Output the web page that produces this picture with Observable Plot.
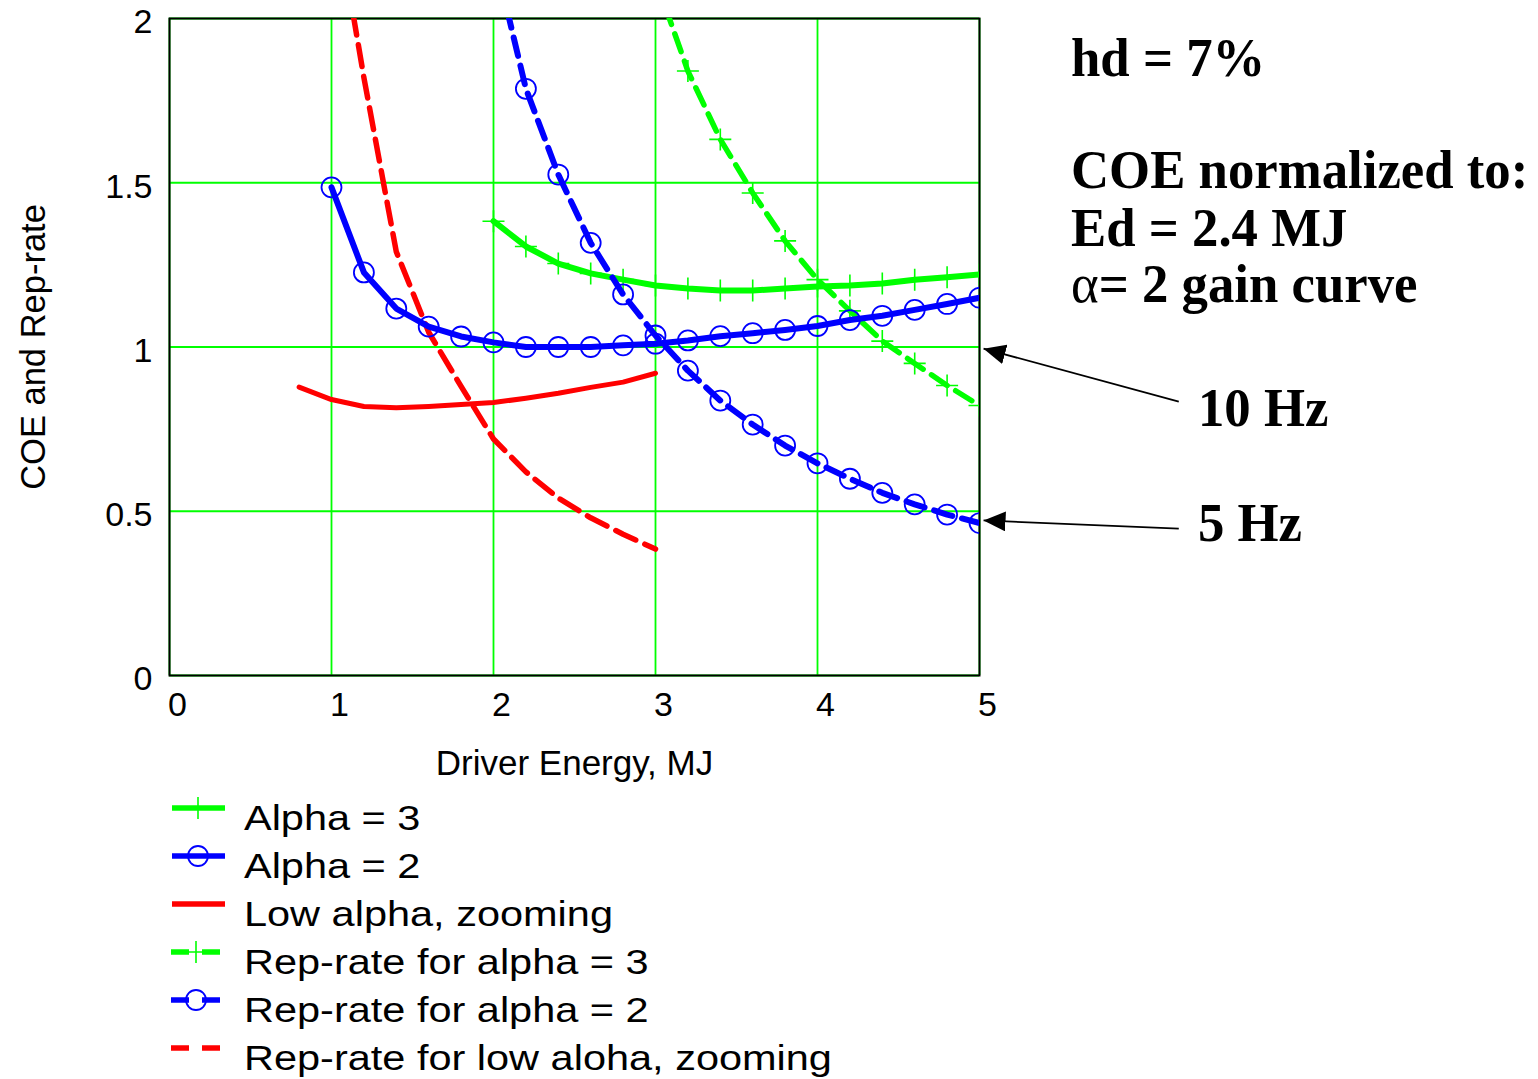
<!DOCTYPE html>
<html><head><meta charset="utf-8">
<script src="https://cdn.jsdelivr.net/npm/d3@7"></script>
<script src="https://cdn.jsdelivr.net/npm/@observablehq/plot@0.6"></script>
<style>
html,body{margin:0;padding:0;background:#fff;}
#wrap{position:relative;width:1538px;height:1079px;overflow:hidden;background:#fff;}
#wrap > svg{position:absolute;left:0;top:0;}
</style></head><body><div id="wrap"></div>
<script>
// ---------- data ----------
const xTicks = [0, 1, 2, 3, 4, 5];
const yTicks = [0, 0.5, 1, 1.5, 2];

const energyA3 = [2.0, 2.2, 2.4, 2.6, 2.8, 3.0, 3.2, 3.4, 3.6, 3.8, 4.0, 4.2, 4.4, 4.6, 4.8, 5.0];
const coeAlpha3 = [1.383, 1.306, 1.254, 1.224, 1.205, 1.187, 1.178, 1.172, 1.172, 1.178, 1.184, 1.187, 1.193, 1.205, 1.212, 1.221];

const energyA2 = [1.0, 1.2, 1.4, 1.6, 1.8, 2.0, 2.2, 2.4, 2.6, 2.8, 3.0, 3.2, 3.4, 3.6, 3.8, 4.0, 4.2, 4.4, 4.6, 4.8, 5.0];
const coeAlpha2 = [1.486, 1.227, 1.117, 1.062, 1.032, 1.014, 1.0, 1.0, 1.0, 1.005, 1.01, 1.02, 1.033, 1.042, 1.052, 1.064, 1.082, 1.095, 1.113, 1.131, 1.15];

const energyLow = [0.8, 1.0, 1.2, 1.4, 1.6, 1.8, 2.0, 2.2, 2.4, 2.6, 2.8, 3.0];
const coeLowAlpha = [0.878, 0.84, 0.819, 0.815, 0.819, 0.825, 0.831, 0.844, 0.859, 0.877, 0.893, 0.92];

const energyRep3 = [3.0, 3.2, 3.4, 3.6, 3.8, 4.0, 4.2, 4.4, 4.6, 4.8, 5.0];
const repAlpha3 = [2.12, 1.84, 1.632, 1.469, 1.323, 1.205, 1.11, 1.018, 0.95, 0.883, 0.822];

const energyRep2 = [2.0, 2.2, 2.4, 2.6, 2.8, 3.0, 3.2, 3.4, 3.6, 3.8, 4.0, 4.2, 4.4, 4.6, 4.8, 5.0];
const repAlpha2 = [2.2, 1.786, 1.525, 1.317, 1.16, 1.035, 0.928, 0.837, 0.764, 0.70, 0.646, 0.599, 0.556, 0.521, 0.49, 0.464];

const energyRepLow = [1.0, 1.2, 1.4, 1.6, 1.8, 2.0, 2.2, 2.4, 2.6, 2.8, 3.0];
const repLowAlpha = [2.4, 1.82, 1.29, 1.045, 0.88, 0.72, 0.62, 0.54, 0.48, 0.43, 0.385];

const legendLabels = ["Alpha = 3", "Alpha = 2", "Low alpha, zooming", "Rep-rate for alpha = 3", "Rep-rate for alpha = 2", "Rep-rate for low aloha, zooming"];
const xLabel = "Driver Energy, MJ";
const yLabel = "COE and Rep-rate";
const noteLines = ["hd = 7%", "COE normalized to:", "Ed = 2.4 MJ", "= 2 gain curve"];
const arrowLabels = ["10 Hz", "5 Hz"];
// arrows (data coords): from label to curve end
const arrowFromX = [6.23, 6.23];
const arrowFromY = [0.834, 0.447];
const arrowToX = [5.025, 5.025];
const arrowToY = [0.995, 0.472];

// ---------- build ----------
const rows = (xs, ys) => xs.map((x, i) => ({x, y: ys[i]}));
const dA3 = rows(energyA3, coeAlpha3);
const dA2 = rows(energyA2, coeAlpha2);
const dLow = rows(energyLow, coeLowAlpha);
const dR3 = rows(energyRep3, repAlpha3);
const dR2 = rows(energyRep2, repAlpha2);
const dRL = rows(energyRepLow, repLowAlpha);
const arrows = arrowFromX.map((x, i) => ({x1: x, y1: arrowFromY[i], x2: arrowToX[i], y2: arrowToY[i]}));

const GREEN = "#00ff00", BLUE = "#0000ff", RED = "#ff0000";
const plusSymbol = {draw(ctx, size) { const r = Math.sqrt(size / Math.PI); ctx.moveTo(-r, 0); ctx.lineTo(r, 0); ctx.moveTo(0, -r); ctx.lineTo(0, r); }};

const W = 1538, H = 790;
const chart = Plot.plot({
  width: W, height: H,
  marginLeft: 169, marginRight: 559, marginTop: 18, marginBottom: 115,
  style: {fontFamily: "'Liberation Sans', Arial, sans-serif", color: "#000", background: "transparent"},
  x: {domain: [0, 5]},
  y: {domain: [0, 2]},
  marks: [
    Plot.gridX(xTicks, {stroke: GREEN, strokeOpacity: 1, strokeWidth: 1.8}),
    Plot.gridY(yTicks, {stroke: GREEN, strokeOpacity: 1, strokeWidth: 1.8}),
    Plot.axisX(xTicks, {tickSize: 0, tickPadding: 16, dx: 8, fontSize: 34, label: null, tickFormat: d => String(d)}),
    Plot.axisY(yTicks, {tickSize: 0, tickPadding: 17, dy: 4, fontSize: 34, label: null, tickFormat: d => String(d)}),
    Plot.frame({stroke: "#000", strokeWidth: 2}),
    Plot.line(dLow, {x: "x", y: "y", stroke: RED, strokeWidth: 5, clip: true}),
    Plot.line(dRL, {x: "x", y: "y", stroke: RED, strokeWidth: 5.5, strokeDasharray: "22,10", clip: true}),
    Plot.line(dR3, {x: "x", y: "y", stroke: GREEN, strokeWidth: 5.5, strokeDasharray: "19,10", clip: true}),
    Plot.dot(dR3, {x: "x", y: "y", symbol: plusSymbol, r: 11, stroke: GREEN, strokeWidth: 1.6, fill: "none", clip: true}),
    Plot.line(dA3, {x: "x", y: "y", stroke: GREEN, strokeWidth: 6, clip: true}),
    Plot.dot(dA3, {x: "x", y: "y", symbol: plusSymbol, r: 11, stroke: GREEN, strokeWidth: 1.6, fill: "none", clip: true}),
    Plot.line(dR2, {x: "x", y: "y", stroke: BLUE, strokeWidth: 6, strokeDasharray: "19,10", clip: true}),
    Plot.dot(dR2, {x: "x", y: "y", r: 10, stroke: BLUE, strokeWidth: 1.8, fill: "none", clip: true}),
    Plot.line(dA2, {x: "x", y: "y", stroke: BLUE, strokeWidth: 6, clip: true}),
    Plot.dot(dA2, {x: "x", y: "y", r: 10, stroke: BLUE, strokeWidth: 1.8, fill: "none", clip: true}),
    Plot.link(arrows, {x1: "x1", y1: "y1", x2: "x2", y2: "y2", stroke: "#000", strokeWidth: 1.8}),
    Plot.text([xLabel], {text: d => d, frameAnchor: "bottom", dy: 99, fontSize: 35, fill: "#000"}),
    Plot.text([yLabel], {text: d => d, frameAnchor: "left", textAnchor: "middle", dx: -136, rotate: -90, fontSize: 34.5, fill: "#000"})
  ]
});

// filled arrowheads on the annotation links
const NS = "http://www.w3.org/2000/svg";
const defs = document.createElementNS(NS, "defs");
defs.innerHTML = '<marker id="ahead" viewBox="0 0 22 20" refX="22" refY="10" markerWidth="22" markerHeight="20" markerUnits="userSpaceOnUse" orient="auto"><path d="M0,0L22,10L0,20Z" fill="#000"/></marker>';
chart.insertBefore(defs, chart.firstChild);
chart.querySelectorAll('g[aria-label="link"] path').forEach(p => p.setAttribute("marker-end", "url(#ahead)"));

const wrap = document.getElementById("wrap");
wrap.appendChild(chart);

// ---------- overlay: notes + legend ----------
const ov = document.createElementNS(NS, "svg");
ov.setAttribute("width", W); ov.setAttribute("height", 1079);
ov.setAttribute("id", "over");
wrap.appendChild(ov);

function addText(str, x, y, opts) {
  const t = document.createElementNS(NS, "text");
  t.setAttribute("x", x); t.setAttribute("y", y);
  t.setAttribute("font-family", opts.family);
  t.setAttribute("font-size", opts.size);
  t.setAttribute("font-weight", opts.weight || "normal");
  t.setAttribute("fill", "#000");
  if (opts.sy || opts.sx) t.setAttribute("transform", `translate(${x},${y}) scale(${opts.sx || 1},${opts.sy || 1}) translate(${-x},${-y})`);
  t.textContent = str;
  ov.appendChild(t);
  return t;
}
const serif = "'Liberation Serif', 'Times New Roman', serif";
const noteBase = [76, 188, 246, 302];
noteLines.forEach((s, i) => {
  const t = addText(i === 3 ? "" : s, 1071, noteBase[i], {family: serif, size: 51, weight: "bold", sx: 1.035, sy: 1.08});
  if (i === 3) {
    const a = document.createElementNS(NS, "tspan"); a.setAttribute("font-weight", "normal"); a.textContent = "\u03b1";
    const b = document.createElementNS(NS, "tspan"); b.textContent = s;
    t.appendChild(a); t.appendChild(b);
  }
});
const arrowBase = [426, 541];
arrowLabels.forEach((s, i) => addText(s, 1198, arrowBase[i], {family: serif, size: 51, weight: "bold", sx: 1.035, sy: 1.08}));

// legend
const legendStyles = [
  {c: GREEN, dash: null, m: "plus"},
  {c: BLUE, dash: null, m: "circle"},
  {c: RED, dash: null, m: null},
  {c: GREEN, dash: "18,13", m: "plus"},
  {c: BLUE, dash: "18,13", m: "circle"},
  {c: RED, dash: "18,13", m: null}
];
legendLabels.forEach((lab, i) => {
  const st = legendStyles[i];
  const y = 808 + 48 * i;
  const l = document.createElementNS(NS, "line");
  const x1 = st.dash ? 171 : 172, x2 = st.dash ? 220 : 225;
  l.setAttribute("x1", x1); l.setAttribute("x2", x2); l.setAttribute("y1", y); l.setAttribute("y2", y);
  l.setAttribute("stroke", st.c); l.setAttribute("stroke-width", 5.5);
  if (st.dash) l.setAttribute("stroke-dasharray", st.dash);
  ov.appendChild(l);
  const mx = st.dash ? 196 : 198;
  if (st.m === "plus") {
    const p = document.createElementNS(NS, "path");
    p.setAttribute("d", `M${mx - 11},${y}H${mx + 11}M${mx},${y - 11}V${y + 11}`);
    p.setAttribute("stroke", st.c); p.setAttribute("stroke-width", 1.6); p.setAttribute("fill", "none");
    ov.appendChild(p);
  } else if (st.m === "circle") {
    const c = document.createElementNS(NS, "circle");
    c.setAttribute("cx", mx); c.setAttribute("cy", y); c.setAttribute("r", 10);
    c.setAttribute("stroke", st.c); c.setAttribute("stroke-width", 1.8); c.setAttribute("fill", "none");
    ov.appendChild(c);
  }
  addText(lab, 244, y + 22, {family: "'Liberation Sans', Arial, sans-serif", size: 41.5, sy: 0.86});
});
</script>
</body></html>
